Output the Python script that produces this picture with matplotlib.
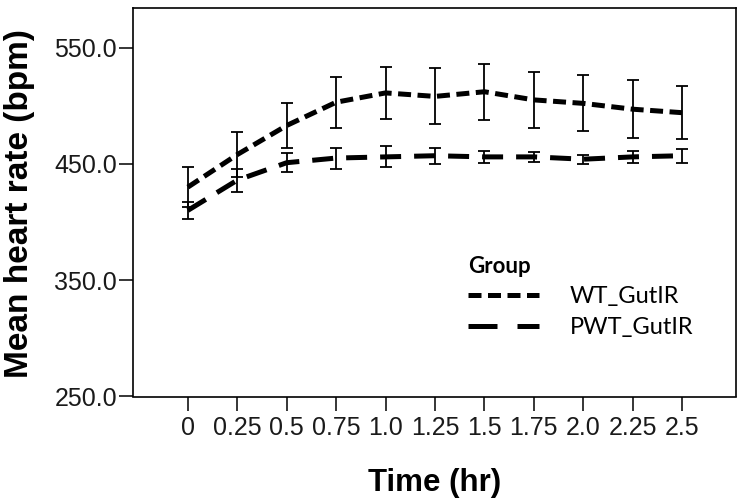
import matplotlib
matplotlib.use("Agg")
import matplotlib.pyplot as plt
from matplotlib.lines import Line2D

# time points (hr) and group means / error half-widths (bpm)
time_labels = ["0", "0.25", "0.5", "0.75", "1.0", "1.25", "1.5", "1.75", "2.0", "2.25", "2.5"]
wt_mean = [430, 458, 483, 503, 511, 508, 512, 505, 502, 497, 494]
wt_err = [17, 19, 19, 22, 22, 24, 24, 24, 24, 25, 23]
pwt_mean = [410, 436, 451, 455, 456, 457, 456, 456, 454, 456, 457]
pwt_err = [7, 10, 8, 9, 9, 7, 5, 4, 4, 5, 6]
group_names = ["WT_GutIR", "PWT_GutIR"]

W, H = 741, 503
fig = plt.figure(figsize=(W / 100, H / 100), dpi=100)
ax = fig.add_axes([133 / W, 1 - 396.5 / H, (736 - 133) / W, (396.5 - 8) / H])

x = list(range(len(time_labels)))

lw = 3.6
ax.plot(x, wt_mean, color="black", lw=lw, dashes=(2.6, 1.3),
        dash_capstyle="butt", zorder=3)
ax.plot(x, pwt_mean, color="black", lw=lw, dashes=(4.2, 2.6),
        dash_capstyle="butt", zorder=3)

ax.errorbar(x, wt_mean, yerr=wt_err, fmt="none", ecolor="black",
            elinewidth=1.3, capsize=4.5, capthick=1.3, zorder=4)
ax.errorbar(x, pwt_mean, yerr=pwt_err, fmt="none", ecolor="black",
            elinewidth=1.3, capsize=4.5, capthick=1.3, zorder=4)

ax.set_xlim(-1.11, 11.09)
ax.set_ylim(250, 584)
ax.set_xticks(x)
ax.set_xticklabels(time_labels)
ax.set_yticks([250, 350, 450, 550])
ax.set_yticklabels(["250.0", "350.0", "450.0", "550.0"])

for s in ax.spines.values():
    s.set_linewidth(1.2)
ax.tick_params(axis="x", length=10, width=1.1, pad=4)
ax.tick_params(axis="y", length=10, width=1.1, pad=1.5)
for lab in ax.get_xticklabels() + ax.get_yticklabels():
    lab.set_fontfamily("Liberation Sans")
    lab.set_fontsize(18)
    lab.set_color("#1a1a1a")

ax.set_xlabel("Time (hr)", fontsize=22.5, fontweight="bold",
              family="Liberation Sans", va="center")
ax.xaxis.set_label_coords(0.5, (396.5 - 483) / 388.5)
ax.set_ylabel("Mean heart rate (bpm)", fontsize=24, fontweight="bold",
              family="Liberation Sans", va="center")
ax.yaxis.set_label_coords((20 - 133) / 603, (396.5 - 204) / 388.5)

# legend keys drawn like the SPSS legend: short dashes / two long dashes
handles = [
    Line2D([], [], color="black", lw=lw, dashes=(2.6, 1.3), dash_capstyle="butt"),
    Line2D([], [], color="black", lw=lw, dashes=(5.8, 4.0), dash_capstyle="butt"),
]
leg = ax.legend(handles, group_names, title="Group",
                loc="upper left", bbox_to_anchor=(468 / W, 1 - 256 / H),
                bbox_transform=fig.transFigure, frameon=False,
                handlelength=3.0, handletextpad=1.3, labelspacing=0.4,
                borderpad=0, borderaxespad=0,
                prop={"family": "Lato", "size": 17},
                title_fontproperties={"family": "Lato", "size": 16, "weight": "bold"},
                alignment="left")

fig.savefig("out.png", dpi=100)
